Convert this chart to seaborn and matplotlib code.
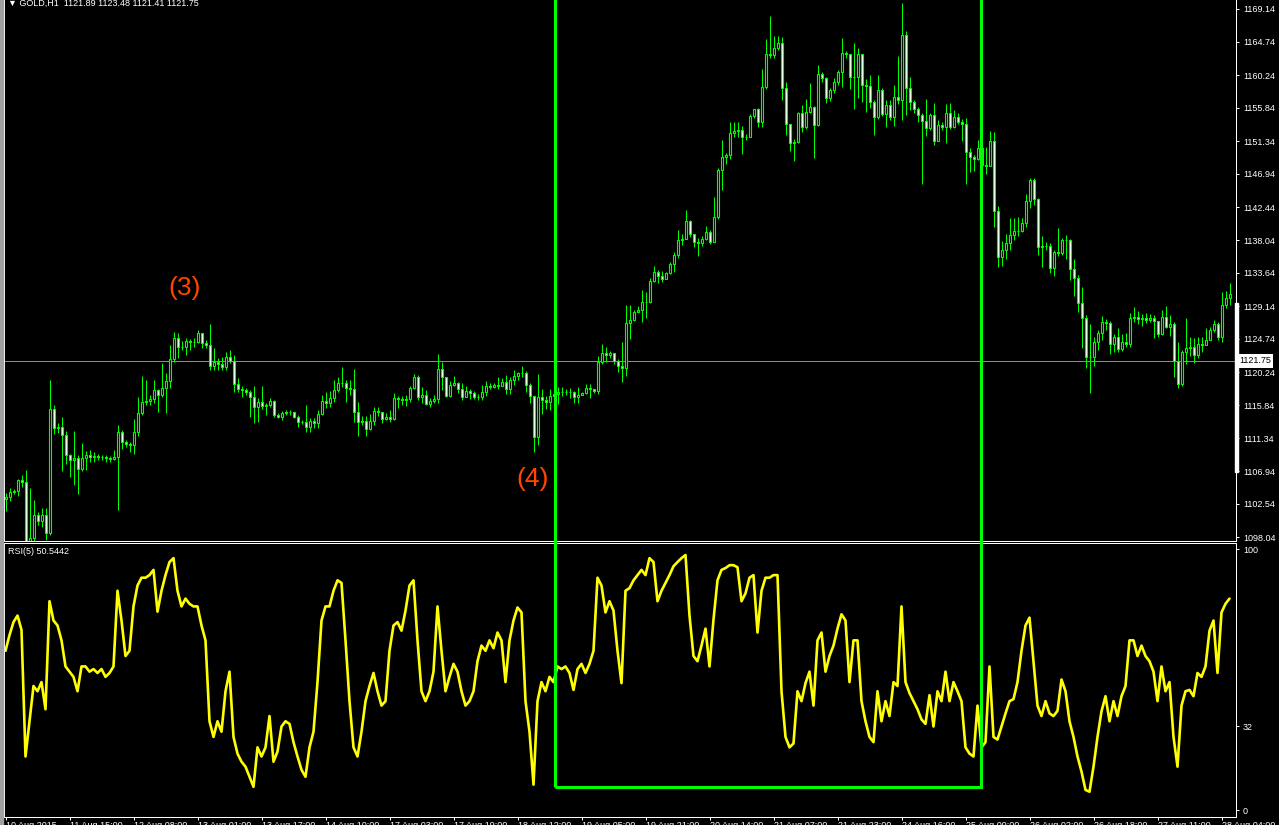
import numpy as np
import seaborn as sns
import matplotlib.pyplot as plt
from matplotlib.patches import Rectangle

# GOLD H1, 10 Aug 2015 - 28 Aug 2015
first_open = 1103.19
close = [
    1103.46, 1104.13, 1104.27, 1105.74, 1105.47, 1097.00, 1097.93, 1101.03, 1100.23, 1101.03,
    1098.61, 1115.30, 1112.74, 1112.88, 1111.80, 1109.11, 1108.43, 1108.70, 1107.22, 1108.70,
    1109.11, 1108.84, 1108.97, 1108.84, 1108.84, 1108.70, 1108.57, 1108.84, 1112.20, 1110.86,
    1110.59, 1110.46, 1112.20, 1114.76, 1116.24, 1116.38, 1116.65, 1117.86, 1117.19, 1118.12,
    1119.07, 1122.03, 1124.85, 1123.65, 1123.65, 1124.46, 1124.32, 1124.32, 1125.53, 1124.19,
    1123.92, 1121.08, 1121.62, 1121.35, 1120.95, 1122.30, 1121.76, 1118.66, 1117.99, 1117.86,
    1117.59, 1116.92, 1115.57, 1116.24, 1115.70, 1115.84, 1116.38, 1114.49, 1114.22, 1114.76,
    1114.89, 1114.89, 1114.22, 1113.55, 1113.55, 1112.88, 1113.69, 1113.42, 1114.62, 1116.38,
    1116.11, 1116.78, 1117.86, 1118.80, 1118.80, 1118.12, 1117.99, 1114.89, 1113.55, 1113.69,
    1112.61, 1113.69, 1115.03, 1114.89, 1113.95, 1114.22, 1113.95, 1116.78, 1116.65, 1116.51,
    1116.65, 1118.12, 1119.61, 1116.92, 1117.19, 1115.97, 1116.38, 1116.65, 1120.68, 1119.61,
    1117.05, 1118.53, 1118.80, 1117.99, 1116.92, 1117.73, 1117.46, 1116.92, 1116.92, 1117.59,
    1118.39, 1118.26, 1118.53, 1118.39, 1118.93, 1117.99, 1119.20, 1119.74, 1120.15, 1120.15,
    1118.53, 1117.05, 1111.53, 1116.92, 1116.51, 1116.24, 1117.05, 1117.32, 1117.59, 1117.59,
    1117.59, 1117.59, 1116.92, 1117.19, 1117.46, 1118.12, 1117.99, 1117.73, 1121.62, 1122.84,
    1122.57, 1122.84, 1121.76, 1121.08, 1120.81, 1126.88, 1127.28, 1128.35, 1128.62, 1129.70,
    1129.70, 1132.53, 1133.74, 1133.20, 1132.80, 1133.61, 1134.81, 1136.03, 1138.05, 1138.18,
    1140.61, 1138.85, 1137.78, 1137.65, 1138.18, 1139.12, 1137.78, 1141.14, 1147.47, 1149.22,
    1149.49, 1152.45, 1152.72, 1152.85, 1151.91, 1151.91, 1154.73, 1155.68, 1153.93, 1158.64,
    1163.08, 1162.95, 1163.89, 1164.57, 1158.50, 1153.66, 1151.11, 1151.24, 1155.14, 1153.26,
    1155.27, 1155.95, 1153.53, 1160.39, 1159.85, 1157.16, 1158.24, 1159.31, 1160.66, 1163.22,
    1163.08, 1159.99, 1159.99, 1163.08, 1158.91, 1158.77, 1156.62, 1154.60, 1158.24, 1155.00,
    1156.22, 1154.60, 1157.30, 1156.89, 1165.64, 1158.50, 1156.62, 1155.68, 1154.87, 1154.07,
    1153.12, 1154.87, 1151.38, 1153.53, 1153.26, 1155.14, 1153.26, 1154.60, 1153.93, 1153.66,
    1149.89, 1149.22, 1148.95, 1150.43, 1148.14, 1148.00, 1151.38, 1141.95, 1135.76, 1136.70,
    1137.65, 1138.72, 1139.26, 1139.26, 1140.34, 1143.30, 1146.12, 1143.56, 1137.11, 1137.24,
    1137.24, 1134.27, 1136.43, 1136.30, 1138.05, 1138.05, 1134.14, 1132.93, 1129.57, 1127.55,
    1122.30, 1122.30, 1124.32, 1125.53, 1127.01, 1126.88, 1124.05, 1125.00, 1123.38, 1124.32,
    1124.05, 1127.55, 1127.68, 1127.41, 1127.55, 1127.28, 1127.55, 1127.15, 1125.39, 1127.68,
    1126.34, 1126.74, 1121.76, 1118.66, 1122.97, 1123.51, 1123.65, 1122.57, 1124.05, 1123.92,
    1124.59, 1125.93, 1126.74, 1125.00, 1129.30, 1130.24, 1130.78]

high = [
    1104.00, 1104.66, 1104.53, 1105.88, 1106.42, 1107.09, 1104.66, 1103.05, 1101.43, 1101.97,
    1101.97, 1119.20, 1115.84, 1113.42, 1114.22, 1112.34, 1109.24, 1112.34, 1109.11, 1110.73,
    1109.65, 1109.78, 1109.51, 1109.24, 1109.11, 1109.11, 1108.97, 1109.78, 1113.15, 1112.47,
    1111.13, 1110.86, 1113.95, 1116.92, 1119.74, 1119.20, 1117.19, 1119.20, 1117.99, 1121.49,
    1120.15, 1123.92, 1125.66, 1125.53, 1124.46, 1124.85, 1124.73, 1124.85, 1125.93, 1124.85,
    1124.59, 1126.74, 1123.51, 1122.16, 1122.30, 1122.97, 1123.24, 1122.57, 1119.47, 1118.39,
    1118.12, 1117.86, 1118.39, 1116.78, 1118.39, 1116.11, 1116.78, 1116.51, 1114.76, 1115.03,
    1115.16, 1115.16, 1114.89, 1114.49, 1113.82, 1115.84, 1114.09, 1114.09, 1115.16, 1117.19,
    1117.59, 1117.73, 1119.20, 1119.61, 1120.95, 1119.20, 1119.20, 1120.68, 1116.24, 1114.36,
    1114.36, 1114.62, 1115.57, 1115.57, 1114.62, 1114.76, 1115.16, 1117.46, 1117.05, 1117.05,
    1117.19, 1118.39, 1120.01, 1119.88, 1118.26, 1117.86, 1116.78, 1117.19, 1122.70, 1121.62,
    1119.61, 1119.07, 1119.74, 1118.93, 1118.80, 1118.39, 1117.99, 1117.73, 1117.32, 1118.53,
    1119.07, 1118.80, 1118.80, 1119.61, 1119.47, 1119.88, 1119.61, 1120.55, 1120.28, 1121.08,
    1120.41, 1118.80, 1117.05, 1120.01, 1117.99, 1117.05, 1117.99, 1117.86, 1118.26, 1118.26,
    1117.99, 1118.12, 1117.73, 1118.26, 1117.59, 1118.66, 1118.66, 1117.99, 1122.43, 1124.05,
    1123.65, 1123.11, 1122.84, 1122.03, 1124.32, 1129.30, 1129.30, 1128.62, 1129.16, 1131.32,
    1131.05, 1132.93, 1134.54, 1134.01, 1133.88, 1133.74, 1135.08, 1136.43, 1139.39, 1138.85,
    1142.08, 1140.74, 1138.85, 1138.31, 1138.58, 1139.93, 1139.39, 1143.83, 1147.74, 1151.51,
    1149.76, 1153.93, 1153.93, 1153.93, 1153.39, 1152.31, 1155.00, 1155.68, 1155.81, 1161.06,
    1165.10, 1168.19, 1165.50, 1165.50, 1165.37, 1159.31, 1153.66, 1151.64, 1155.27, 1156.22,
    1157.03, 1159.18, 1156.08, 1161.60, 1160.66, 1159.99, 1158.50, 1159.85, 1160.93, 1165.24,
    1163.49, 1162.95, 1164.57, 1163.89, 1163.08, 1159.72, 1160.26, 1156.89, 1160.26, 1158.50,
    1156.89, 1156.89, 1158.91, 1162.81, 1169.95, 1166.18, 1159.99, 1156.89, 1155.95, 1155.14,
    1157.03, 1155.14, 1156.49, 1154.20, 1153.93, 1156.35, 1156.49, 1155.54, 1155.14, 1154.33,
    1154.47, 1150.43, 1149.49, 1151.51, 1150.16, 1150.57, 1152.72, 1152.58, 1142.62, 1137.92,
    1138.85, 1141.01, 1141.01, 1141.14, 1141.01, 1144.24, 1146.39, 1146.39, 1143.70, 1138.58,
    1137.78, 1137.65, 1136.70, 1139.66, 1138.31, 1138.72, 1138.18, 1135.49, 1133.34, 1131.73,
    1127.96, 1126.74, 1125.00, 1125.93, 1127.82, 1127.41, 1127.15, 1125.39, 1126.20, 1125.39,
    1125.53, 1128.22, 1129.03, 1128.49, 1128.09, 1128.22, 1128.09, 1127.96, 1126.61, 1128.62,
    1129.16, 1127.96, 1127.01, 1124.32, 1123.24, 1127.55, 1125.00, 1124.85, 1125.00, 1125.00,
    1126.20, 1126.34, 1127.28, 1127.01, 1131.05, 1131.18, 1132.26]

low = [
    1101.57, 1102.92, 1103.86, 1103.59, 1104.80, 1094.97, 1094.97, 1097.00, 1099.69, 1099.42,
    1097.67, 1098.34, 1111.93, 1112.07, 1106.96, 1107.89, 1106.15, 1105.07, 1103.86, 1106.96,
    1107.09, 1108.16, 1108.16, 1108.43, 1108.43, 1108.16, 1108.16, 1108.43, 1101.70, 1109.92,
    1110.19, 1109.51, 1109.24, 1111.66, 1114.49, 1115.84, 1115.84, 1116.11, 1114.89, 1116.92,
    1114.76, 1118.12, 1121.62, 1122.16, 1123.24, 1122.57, 1123.24, 1123.65, 1124.19, 1123.51,
    1123.51, 1120.55, 1120.55, 1120.55, 1120.55, 1120.55, 1121.49, 1117.59, 1117.59, 1116.92,
    1117.19, 1114.22, 1113.42, 1113.55, 1115.30, 1114.49, 1115.57, 1114.22, 1114.09, 1113.82,
    1114.49, 1114.49, 1114.09, 1112.88, 1113.28, 1112.20, 1112.20, 1112.74, 1112.74, 1114.49,
    1115.43, 1115.57, 1116.24, 1117.59, 1118.26, 1116.24, 1117.19, 1113.55, 1111.66, 1113.15,
    1111.66, 1112.47, 1113.15, 1114.36, 1113.42, 1113.82, 1113.55, 1113.82, 1115.43, 1115.84,
    1115.70, 1116.24, 1117.99, 1116.51, 1116.11, 1115.84, 1115.57, 1116.11, 1116.11, 1117.86,
    1116.92, 1116.92, 1118.39, 1117.46, 1116.51, 1116.92, 1116.65, 1116.65, 1116.51, 1116.51,
    1117.05, 1117.99, 1118.12, 1117.99, 1118.39, 1117.32, 1117.32, 1118.53, 1119.20, 1119.61,
    1117.59, 1116.11, 1109.51, 1110.46, 1114.62, 1115.30, 1115.16, 1116.51, 1115.97, 1117.05,
    1117.19, 1116.78, 1116.11, 1116.11, 1117.19, 1117.32, 1116.78, 1117.46, 1117.32, 1121.35,
    1121.62, 1122.16, 1121.35, 1120.28, 1118.93, 1119.74, 1124.73, 1127.15, 1128.35, 1127.01,
    1127.55, 1129.57, 1132.39, 1132.26, 1132.39, 1133.20, 1133.47, 1133.74, 1135.62, 1137.38,
    1138.31, 1138.45, 1137.11, 1135.89, 1137.24, 1138.05, 1137.51, 1137.78, 1140.87, 1144.78,
    1148.27, 1148.95, 1151.91, 1151.91, 1149.62, 1151.51, 1153.12, 1154.47, 1153.26, 1153.26,
    1158.37, 1162.54, 1162.54, 1163.62, 1156.89, 1152.18, 1150.03, 1148.68, 1151.11, 1152.58,
    1152.99, 1155.14, 1149.08, 1153.39, 1159.31, 1156.49, 1156.76, 1157.84, 1158.91, 1158.64,
    1162.54, 1158.37, 1155.68, 1157.16, 1156.62, 1155.27, 1155.81, 1152.18, 1154.33, 1154.73,
    1153.26, 1154.20, 1153.39, 1156.35, 1154.20, 1154.87, 1155.54, 1155.14, 1153.93, 1145.58,
    1152.04, 1152.85, 1150.84, 1151.38, 1152.85, 1151.11, 1152.99, 1153.12, 1153.66, 1151.38,
    1145.58, 1147.20, 1147.33, 1148.81, 1146.80, 1146.93, 1148.00, 1139.80, 1134.41, 1134.54,
    1135.49, 1136.70, 1138.05, 1138.58, 1139.12, 1139.80, 1142.35, 1142.75, 1136.03, 1134.41,
    1136.70, 1133.61, 1133.20, 1135.89, 1136.03, 1135.49, 1132.66, 1130.51, 1128.35, 1123.51,
    1120.81, 1117.46, 1121.08, 1123.24, 1124.59, 1125.93, 1122.70, 1122.97, 1122.97, 1123.11,
    1123.65, 1123.65, 1127.01, 1126.74, 1126.47, 1126.88, 1127.01, 1124.85, 1125.00, 1125.26,
    1126.20, 1125.12, 1119.61, 1118.12, 1118.39, 1121.35, 1122.43, 1121.49, 1122.16, 1122.97,
    1123.92, 1124.86, 1125.66, 1124.59, 1124.32, 1128.89, 1129.30]

rsi = [
    61, 67, 72, 74.5, 69, 20.5, 34, 47.5, 45.5, 49,
    38.6, 80, 72.6, 70.7, 65, 55, 53, 51, 45.5, 55,
    55, 53, 54, 52.5, 54, 51, 52.5, 55, 84, 72.6,
    59, 61, 78, 86, 89, 89, 90, 92, 76, 84,
    90, 95, 96.5, 84, 78, 81, 79, 78, 78, 70.7,
    65, 34, 28, 34, 30, 45.5, 53, 28, 21.6, 18.5,
    16.6, 12.7, 8.9, 24, 20.5, 24, 36, 18.5, 22.4, 32,
    34, 33, 26, 20.5, 15.4, 12.7, 24, 30, 49, 72.6,
    78, 78, 84, 88, 87, 65, 41.7, 24, 20.5, 30,
    41.7, 47.5, 52.5, 45.5, 40, 41.7, 61, 70.7, 72, 68.7,
    76.4, 86, 88, 65, 45.5, 41.7, 45.5, 53, 78, 61,
    45.5, 51, 56, 53, 45.5, 40, 41.7, 45.5, 57, 63,
    61, 65, 62, 68, 65, 49, 65, 72.6, 77.6, 75.7,
    41.7, 30, 9.7, 41.7, 49, 45.5, 51, 49, 55, 54,
    55, 52.5, 46, 54, 56, 52.5, 56, 61, 89, 86,
    75.7, 80, 76.4, 61, 48.6, 84, 85, 88, 90, 92,
    90, 96.5, 95, 80, 84, 87, 90, 93.4, 95, 96.5,
    97.7, 74.5, 59, 57, 63, 69.5, 55, 73, 88, 92,
    92.7, 93.8, 93.8, 93, 80, 83, 89, 90, 68, 84,
    89, 89, 90, 90, 45.5, 28, 24, 25.5, 45.5, 41.7,
    48.6, 53, 40, 65, 68, 53, 59, 63, 69.5, 75,
    72.6, 49, 65, 65, 41.7, 34, 28, 26, 45.5, 34,
    41.7, 36, 49, 47.5, 78, 49, 44.8, 41.7, 38.6, 34.7,
    33, 44, 32, 45.5, 41.7, 53, 41.7, 49, 45.5, 41.7,
    24, 21.6, 20.5, 40, 24, 26, 55, 28, 27, 32,
    37, 41.7, 42.5, 49, 61, 70.7, 73.7, 57, 40, 36,
    41.7, 37, 36, 38, 50, 45.5, 34, 28, 20.5, 14.7,
    7.7, 7, 16.6, 28, 37.8, 43.6, 34, 41.7, 36, 43.6,
    47.5, 65, 65, 59, 63, 59, 57, 53, 41.7, 55,
    45.5, 49, 28, 16.6, 40, 45.5, 46, 43.6, 52.5, 51,
    55, 68.7, 72.6, 52.5, 75.7, 79, 81]

time_labels = ["10 Aug 2015", "11 Aug 15:00", "12 Aug 08:00", "13 Aug 01:00", "13 Aug 17:00",
               "14 Aug 10:00", "17 Aug 03:00", "17 Aug 19:00", "18 Aug 12:00", "19 Aug 05:00",
               "19 Aug 21:00", "20 Aug 14:00", "21 Aug 07:00", "21 Aug 23:00", "24 Aug 16:00",
               "25 Aug 09:00", "26 Aug 02:00", "26 Aug 18:00", "27 Aug 11:00", "28 Aug 04:00"]
price_ticks = [1169.14, 1164.74, 1160.24, 1155.84, 1151.34, 1146.94, 1142.44, 1138.04, 1133.64,
               1129.14, 1124.74, 1120.24, 1115.84, 1111.34, 1106.94, 1102.54, 1098.04]
rsi_ticks = [100, 32, 0]
last_price = 1121.75
header = "\u25bc GOLD,H1  1121.89 1123.48 1121.41 1121.75"
rsi_text = "RSI(5) 50.5442"

LIME = "#00FF00"
sns.set_theme(style="ticks", rc={"axes.facecolor": "black", "figure.facecolor": "black",
                                 "axes.edgecolor": "white", "axes.grid": False})
plt.rcParams['font.family'] = ['Liberation Sans', 'DejaVu Sans']

W, H = 1279, 825
fig = plt.figure(figsize=(W / 100, H / 100), dpi=100)


def fx(px):
    return px / W


def fy(py):
    return 1 - py / H


close = np.array(close)
opens = np.r_[first_open, close[:-1]]
hi = np.maximum(np.array(high), np.maximum(opens, close))
lo = np.minimum(np.array(low), np.minimum(opens, close))
x = np.arange(len(close))
# 4 px per bar, bar centres on pixel centres
xlim = (-0.375, -0.375 + (1236 - 4) / 4)
PX = 0.72  # one pixel in points

# price panel
ax = fig.add_axes([fx(4), fy(541), fx(1236) - fx(4), 541 / H])
ax.set_facecolor("black")
ax.vlines(x, lo, hi, color=LIME, lw=PX, zorder=2)
bull = close >= opens
ax.bar(x, np.abs(close - opens), bottom=np.minimum(opens, close), width=0.5,
       color=np.where(bull, "black", "white"), edgecolor=LIME, linewidth=PX * 1.1, zorder=3)
ax.axhline(last_price, color="#8c8c8c", lw=PX, zorder=1)
ax.set_xlim(*xlim)
ax.set_ylim(1170.35 - 0.13459 * 541, 1170.35)
ax.yaxis.tick_right()
ax.set_yticks(price_ticks)
ax.set_yticklabels([f"{v:.2f}" for v in price_ticks])
ax.set_xticks([])
ax.tick_params(axis="y", colors="white", length=2, width=PX, pad=3, labelsize=6.5)
for s in ax.spines.values():
    s.set_color("white")
    s.set_linewidth(PX)
ax.spines["top"].set_visible(False)

# RSI panel
ax2 = fig.add_axes([fx(4), fy(817), fx(1236) - fx(4), (817 - 543) / H])
ax2.set_facecolor("black")
sns.lineplot(x=x, y=rsi, ax=ax2, color="#FFFF00", linewidth=1.9)
ax2.set_xlim(*xlim)
ax2.set_ylim(-2.68, 102.3)
ax2.yaxis.tick_right()
ax2.set_yticks(rsi_ticks)
ax2.set_yticklabels([str(v) for v in rsi_ticks])
ax2.set_xticks(np.arange(0, len(close), 16))
ax2.set_xticklabels(time_labels, ha="left")
ax2.tick_params(axis="y", colors="white", length=2, width=PX, pad=3, labelsize=6.5)
ax2.tick_params(axis="x", colors="white", length=2.5, width=PX, pad=0.3, labelsize=6.5)
ax2.set_xlabel("")
ax2.set_ylabel("")
for s in ax2.spines.values():
    s.set_color("white")
    s.set_linewidth(PX)

# texts
fig.text(fx(8), fy(5.5), header, color="white", fontsize=6.5, va="baseline")
fig.text(fx(8), fy(551), rsi_text, color="white", fontsize=6.5, va="center")
fig.text(fx(185), fy(288), "(3)", color="#FF4500", fontsize=19, ha="center", va="center")
fig.text(fx(533), fy(479), "(4)", color="#FF4500", fontsize=19, ha="center", va="center")
fig.text(fx(1239), fy(361), f"{last_price:.2f}", color="black", fontsize=6.5, va="center",
         bbox=dict(boxstyle="square,pad=0.25", fc="white", ec="none"))

# frame bits and the highlighted window
fig.add_artist(Rectangle((0, 0), 2.5 / W, 1, color="#a0a0a0", transform=fig.transFigure))
fig.add_artist(Rectangle((fx(1234.5), fy(472)), 3 / W, (472 - 303) / H, color="white",
                         transform=fig.transFigure, zorder=5))
fig.add_artist(Rectangle((fx(554.5), fy(786.5)), fx(981.3) - fx(554.5), 786.5 / H + 0.02,
                         fill=False, edgecolor=LIME, lw=2.2, transform=fig.transFigure, zorder=10))

fig.savefig("out.png", dpi=100, facecolor="black")
